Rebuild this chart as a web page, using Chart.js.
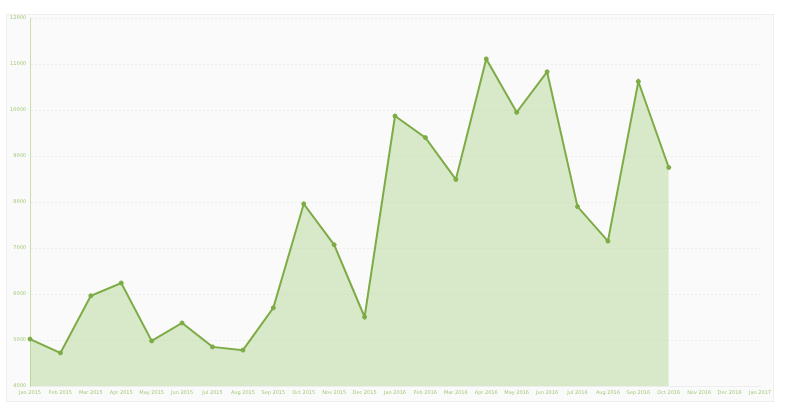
<!DOCTYPE html>
<html>
<head>
<meta charset="utf-8">
<script src="https://cdn.jsdelivr.net/npm/chart.js@4/dist/chart.umd.min.js"></script>
<style>
  html, body { margin: 0; padding: 0; background: #ffffff; }
  #wrap { position: absolute; left: 0; top: 0; width: 785px; height: 408px; }
  #frame { position: absolute; left: 6px; top: 14px; width: 766px; height: 386px;
           border: 1px solid #efefef; background: #fafafa; }
  canvas { position: absolute; left: 0; top: 0; }
</style>
</head>
<body>
<div id="wrap">
  <div id="frame"></div>
  <canvas id="canvasLine" width="785" height="408"></canvas>
</div>
<script>
// month labels along the x axis
var Months = ["Jan 2015", "Feb 2015", "Mar 2015", "Apr 2015", "May 2015", "Jun 2015",
  "Jul 2015", "Aug 2015", "Sep 2015", "Oct 2015", "Nov 2015", "Dec 2015",
  "Jan 2016", "Feb 2016", "Mar 2016", "Apr 2016", "May 2016", "Jun 2016",
  "Jul 2016", "Aug 2016", "Sep 2016", "Oct 2016", "Nov 2016", "Dec 2016", "Jan 2017"];

// values (no data after Oct 2016)
var Values = [5020, 4720, 5960, 6240, 4980, 5370,
  4850, 4780, 5700, 7960, 7070, 5500,
  9870, 9400, 8490, 11110, 9950, 10830,
  7900, 7150, 10620, 8750, null, null, null];

var yMin = 4000;
var yMax = 12000;
var yStep = 1000;

var lineGreen = "#7dab45";
var fillGreen = "rgba(160, 205, 120, 0.38)";
var tickGreen = "#a3c97a";

function createLine(labels, data)
{
  var ctx = document.getElementById("canvasLine").getContext("2d");

  window.myLine = new Chart(ctx, {
    type: 'line',
    data: {
      labels: labels,
      datasets: [
        {
          label: 'Volume',
          data: data,
          borderColor: lineGreen,
          backgroundColor: fillGreen,
          borderWidth: 2,
          fill: 'start',
          tension: 0,
          pointRadius: 2,
          pointBackgroundColor: lineGreen,
          pointBorderColor: lineGreen,
          pointBorderWidth: 1
        }
      ]
    },
    options: {
      responsive: false,
      animation: false,
      layout: { padding: { top: 18, right: 25, bottom: 8, left: 0 } },
      plugins: {
        legend: { display: false },
        tooltip: { enabled: false }
      },
      scales: {
        x: {
          offset: false,
          afterFit: function (scale) { scale.height = 14; },
          grid: { display: false, drawTicks: false },
          border: { display: true, color: '#eeeeee' },
          ticks: {
            autoSkip: false,
            maxRotation: 0,
            minRotation: 0,
            padding: 4,
            color: tickGreen,
            font: { family: 'DejaVu Sans', size: 5 }
          }
        },
        y: {
          min: yMin,
          max: yMax,
          afterFit: function (scale) { scale.width = 30; },
          grid: { color: '#ededed', lineWidth: 1, drawTicks: false },
          border: { display: true, color: '#c9e0ae', dash: [2, 2] },
          ticks: {
            stepSize: yStep,
            padding: 4,
            color: tickGreen,
            font: { family: 'DejaVu Sans', size: 5 },
            callback: function (value) { return String(value); }
          }
        }
      }
    }
  });
}

createLine(Months, Values);
</script>
</body>
</html>
